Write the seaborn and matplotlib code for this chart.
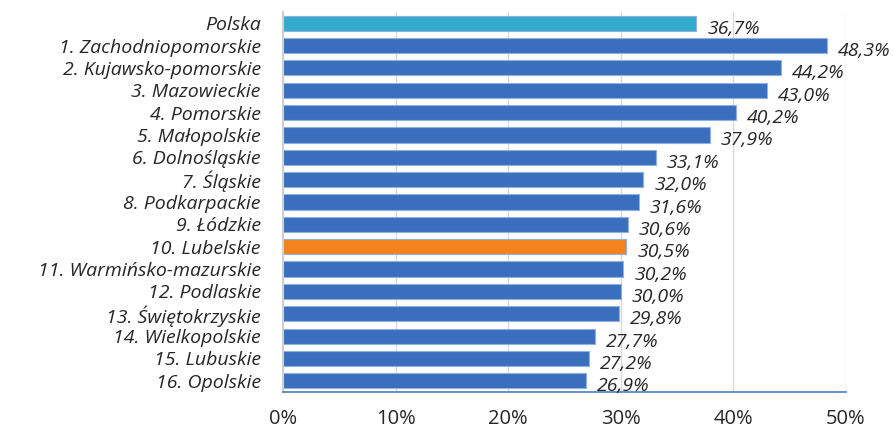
import matplotlib
matplotlib.use("Agg")
import matplotlib.pyplot as plt
import seaborn as sns

regions = [
    "Polska",
    "1. Zachodniopomorskie",
    "2. Kujawsko-pomorskie",
    "3. Mazowieckie",
    "4. Pomorskie",
    "5. Małopolskie",
    "6. Dolnośląskie",
    "7. Śląskie",
    "8. Podkarpackie",
    "9. Łódzkie",
    "10. Lubelskie",
    "11. Warmińsko-mazurskie",
    "12. Podlaskie",
    "13. Świętokrzyskie",
    "14. Wielkopolskie",
    "15. Lubuskie",
    "16. Opolskie",
]
values = [36.7, 48.3, 44.2, 43.0, 40.2, 37.9, 33.1, 32.0, 31.6, 30.6,
          30.5, 30.2, 30.0, 29.8, 27.7, 27.2, 26.9]
xticks = [0, 10, 20, 30, 40, 50]

bar_colors = {r: "#3A6FBE" for r in regions}
bar_colors["Polska"] = "#33ABCB"
bar_colors["10. Lubelskie"] = "#F3821F"

sns.set_style("white")
plt.rcParams["font.family"] = ["Open Sans", "DejaVu Sans"]
plt.rcParams["font.stretch"] = "normal"

fig = plt.figure(figsize=(8.93, 4.30), dpi=100)
ax = fig.add_axes([283 / 893, 1 - 392 / 430, 563 / 893, 380 / 430])

sns.barplot(
    x=values,
    y=regions,
    hue=regions,
    palette=bar_colors,
    saturation=1,
    legend=False,
    width=0.68,
    edgecolor="#8FB0E0",
    linewidth=0.8,
    ax=ax,
)

ax.set_xlim(0, 50)
ax.set_ylim(16.5, -0.5)
ax.set_xticks(xticks)
ax.set_xticklabels([f"{t}%" for t in xticks], fontsize=14.5)
ax.tick_params(axis="x", direction="out", length=5, color="#4A7EBB", width=1, pad=7)
ax.tick_params(axis="y", length=0, pad=16)
for lbl in ax.get_yticklabels():
    lbl.set_fontsize(14)
    lbl.set_fontstyle("italic")

ax.grid(axis="x", color="#D9D9D9", linewidth=1)
ax.set_axisbelow(True)
for side in ["top", "right"]:
    ax.spines[side].set_visible(False)
ax.spines["left"].set_color("#D0D0D0")
ax.spines["left"].set_linewidth(1.5)
ax.spines["bottom"].set_color("#4A7EBB")
ax.spines["bottom"].set_linewidth(1.2)

for i, v in enumerate(values):
    ax.annotate(
        f"{v:.1f}".replace(".", ",") + "%",
        xy=(v, i),
        xytext=(8, -4),
        textcoords="offset points",
        ha="left",
        va="center",
        fontsize=14,
        fontstyle="italic",
    )

ax.set_xlabel("")
ax.set_ylabel("")

fig.savefig("out.png", dpi=100)
